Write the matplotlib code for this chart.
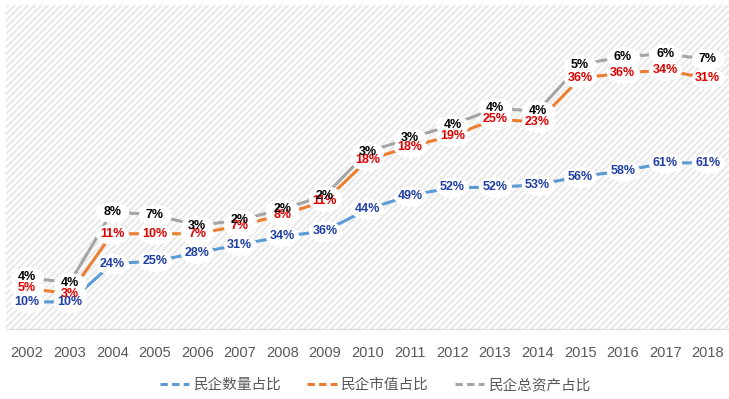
import matplotlib
matplotlib.use('Agg')
import matplotlib.pyplot as plt
from matplotlib.patches import Rectangle
from matplotlib.lines import Line2D
from matplotlib.path import Path
from matplotlib.transforms import Affine2D
import numpy as np

# ------ data (percent)
years = ['2002', '2003', '2004', '2005', '2006', '2007', '2008', '2009', '2010',
         '2011', '2012', '2013', '2014', '2015', '2016', '2017', '2018']
count_share = [10, 10, 24, 25, 28, 31, 34, 36, 44, 49, 52, 52, 53, 56, 58, 61, 61]
mktcap_share = [5, 3, 11, 10, 7, 7, 8, 11, 18, 18, 19, 25, 23, 36, 36, 34, 31]
asset_share = [4, 4, 8, 7, 3, 2, 2, 2, 3, 3, 4, 4, 4, 5, 6, 6, 7]
series_names = ['民企数量占比', '民企市值占比', '民企总资产占比']

# ------ styles
line_colors = ['#5B9BD5', '#ED7D31', '#A5A5A5']
label_colors = ['#1F3FA3', '#E00000', '#000000']

plt.rcParams['hatch.linewidth'] = 1.6
plt.rcParams['hatch.color'] = '#e8e8e8'

fig = plt.figure(figsize=(7.29, 3.99), dpi=100)
ax = fig.add_axes([0.008, 0.175, 0.992, 0.813])

# - hatched background
ax.add_patch(Rectangle((0, 0), 1, 1, transform=ax.transAxes, facecolor='white',
                       edgecolor='#e8e8e8', hatch='/////', linewidth=0, zorder=0))

x = np.arange(len(years))
stack = [np.array(count_share)]
stack.append(stack[0] + np.array(mktcap_share))
stack.append(stack[1] + np.array(asset_share))
values = [count_share, mktcap_share, asset_share]

for i in range(3):
    ax.plot(x, stack[i], color=line_colors[i], lw=2.2, zorder=2 + i)

# - white oval behind every label (cuts the lines like the original)
oval = Path.unit_circle().transformed(Affine2D().scale(1.0, 0.62))
for i in range(3):
    ax.plot(x, stack[i], linestyle='none', marker=oval, markersize=24,
            markerfacecolor='white', markeredgecolor='none', zorder=6)

# - data labels
for i in range(3):
    for xi, yi, v in zip(x, stack[i], values[i]):
        ax.text(xi, yi, f'{v}%', ha='center', va='center', fontsize=9,
                fontweight='bold', family='Liberation Sans',
                color=label_colors[i], zorder=8 + i)

ax.set_xlim(-0.5, len(years) - 0.5)
ax.set_ylim(0, 119)
ax.set_xticks(x)
ax.set_xticklabels(years, fontsize=10.5, color='#595959', family='Liberation Sans')
ax.tick_params(axis='x', length=0, pad=12)
ax.set_yticks([])
for s in ['top', 'right', 'left']:
    ax.spines[s].set_visible(False)
ax.spines['bottom'].set_color('#d9d9d9')

handles = [Line2D([], [], color=c, lw=2.2, linestyle=(0, (2.4, 1.4))) for c in line_colors]
leg = fig.legend(handles, series_names, loc='center', bbox_to_anchor=(0.515, 0.035),
                 ncol=3, frameon=False, handlelength=2.0, columnspacing=1.8,
                 handletextpad=0.3,
                 prop={'family': ['Noto Sans CJK SC', 'DejaVu Sans'], 'size': 10.5})
for t in leg.get_texts():
    t.set_color('#595959')

fig.savefig('out.png', dpi=100)
